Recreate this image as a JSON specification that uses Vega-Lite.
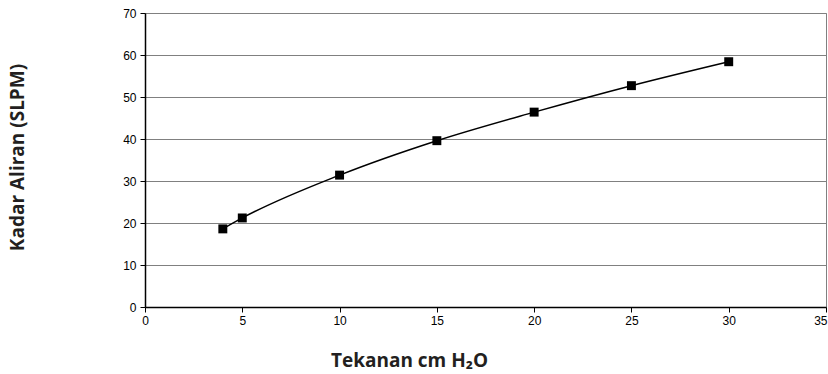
{
  "$schema": "https://vega.github.io/schema/vega-lite/v6.json",
  "width": 681,
  "height": 294,
  "autosize": {"type": "none"},
  "padding": {"left": 145, "top": 13, "right": 2, "bottom": 67},
  "background": "white",
  "config": {
    "view": {"stroke": "#808080", "strokeWidth": 1},
    "axis": {
      "labelFont": "Liberation Sans",
      "labelFontSize": 12,
      "labelColor": "#000",
      "labelFlush": false,
      "titleFont": "Open Sans",
      "titleFontSize": 19,
      "titleFontWeight": "bold",
      "titleColor": "#231f20",
      "titleBaseline": "alphabetic",
      "domainColor": "#000",
      "domainWidth": 1.5,
      "tickColor": "#000",
      "tickSize": 5,
      "tickWidth": 1
    }
  },
  "data": {
    "values": [
      {"tekanan": 4, "kadar": 18.6},
      {"tekanan": 5, "kadar": 21.2},
      {"tekanan": 10, "kadar": 31.4},
      {"tekanan": 15, "kadar": 39.6},
      {"tekanan": 20, "kadar": 46.4},
      {"tekanan": 25, "kadar": 52.7},
      {"tekanan": 30, "kadar": 58.4}
    ]
  },
  "encoding": {
    "x": {
      "field": "tekanan",
      "type": "quantitative",
      "scale": {"domain": [0, 35], "nice": false},
      "axis": {
        "values": [0, 5, 10, 15, 20, 25, 30, 35],
        "grid": false,
        "title": "Tekanan cm H₂O",
        "titleX": 264,
        "titleY": 59,
        "titleAnchor": "middle",
        "labelPadding": 3,
        "labelAlign": {"condition": {"test": "datum.value == 35", "value": "right"}, "value": "center"},
        "labelOffset": {"condition": {"test": "datum.value == 35", "value": 1}, "value": 0}
      }
    },
    "y": {
      "field": "kadar",
      "type": "quantitative",
      "scale": {"domain": [0, 70], "nice": false},
      "axis": {
        "values": [0, 10, 20, 30, 40, 50, 60, 70],
        "grid": true,
        "gridColor": "#808080",
        "gridWidth": 1,
        "gridOpacity": 1,
        "title": "Kadar Aliran (SLPM)",
        "titleX": -122,
        "titleY": 144,
        "titleAnchor": "middle",
        "labelPadding": 4
      }
    }
  },
  "layer": [
    {
      "mark": {"type": "line", "color": "#000", "strokeWidth": 1.5, "interpolate": "monotone"}
    },
    {
      "mark": {"type": "point", "shape": "square", "filled": true, "color": "#000", "size": 80, "opacity": 1}
    }
  ]
}
